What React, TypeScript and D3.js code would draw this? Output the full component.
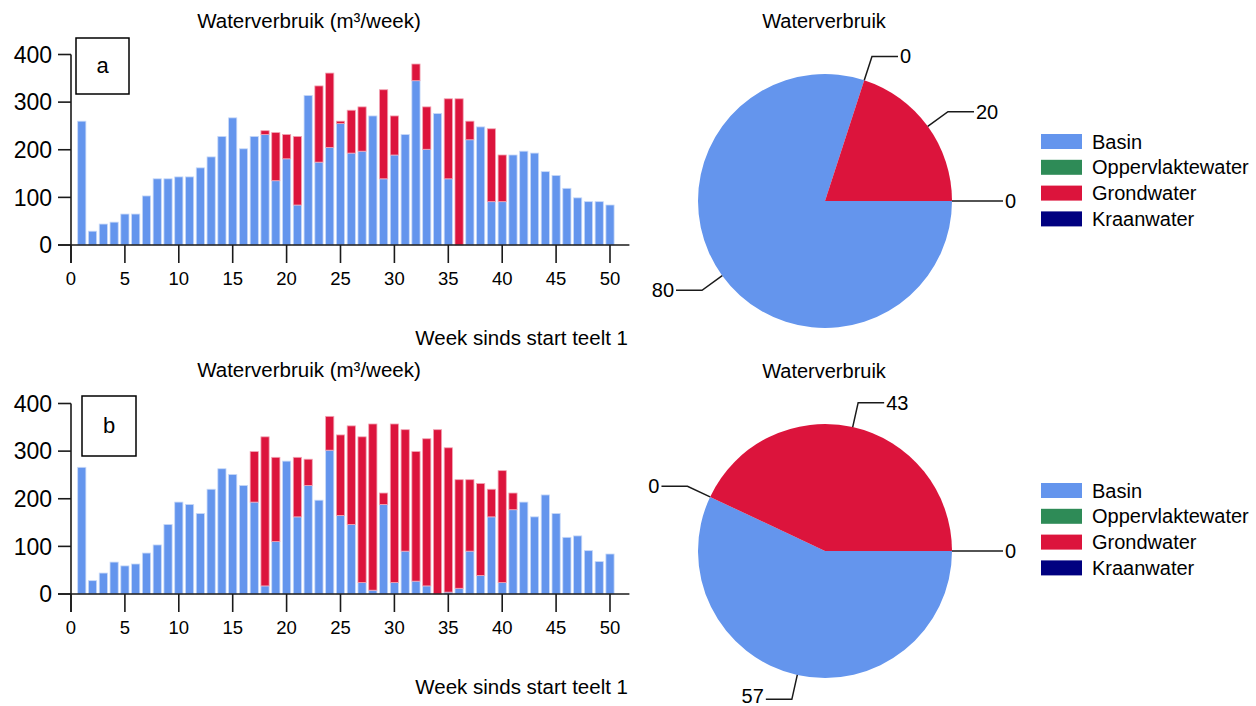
import React from "react";
import * as d3 from "d3";

// Weekly water use per source (m³/week), weeks since start of crop 1
const weeks = d3.range(1, 51);

const basinA = [
  260, 29, 44, 48, 65, 65, 103, 139, 139, 143,
  143, 162, 185, 228, 267, 202, 228, 232, 135, 181,
  84, 314, 174, 205, 255, 193, 197, 271, 139, 189,
  232, 345, 201, 276, 139, 0, 221, 248, 91, 91,
  189, 197, 193, 154, 146, 119, 99, 91, 91, 84,
];
const grondA = [
  0, 0, 0, 0, 0, 0, 0, 0, 0, 0,
  0, 0, 0, 0, 0, 0, 0, 8, 101, 51,
  144, 0, 160, 156, 5, 90, 93, 0, 187, 82,
  0, 35, 89, 0, 168, 307, 39, 0, 153, 98,
  0, 0, 0, 0, 0, 0, 0, 0, 0, 0,
];

const basinB = [
  266, 28, 44, 67, 59, 63, 86, 103, 146, 193,
  188, 169, 220, 263, 251, 228, 193, 17, 110, 279,
  162, 228, 197, 302, 165, 146, 24, 8, 188, 24,
  90, 27, 17, 0, 4, 12, 90, 39, 162, 24,
  177, 193, 162, 208, 169, 119, 122, 91, 68, 84,
];
const grondB = [
  0, 0, 0, 0, 0, 0, 0, 0, 0, 0,
  0, 0, 0, 0, 0, 0, 106, 313, 177, 0,
  125, 55, 0, 71, 169, 207, 306, 349, 24, 333,
  255, 272, 309, 345, 303, 228, 150, 193, 58, 235,
  35, 0, 0, 0, 0, 0, 0, 0, 0, 0,
];

// Share of total use per source (%)
const sources = ["Basin", "Oppervlaktewater", "Grondwater", "Kraanwater"];
const sourceColors = ["#6495ED", "#2E8B57", "#DC143C", "#000080"];
const pieA = [80, 0, 20, 0];
const pieB = [57, 0, 43, 0];

const yTicks = [0, 100, 200, 300, 400];
const xTicks = [0, 5, 10, 15, 20, 25, 30, 35, 40, 45, 50];

const FONT = "'Liberation Sans', Arial, sans-serif";
const INK = "#1a1a1a";

function BarPanel({ dy, basin, grond, letter, box }: any) {
  const x = d3.scaleLinear().domain([0, 51.8]).range([71, 71 + 51.8 * 10.78]);
  const y = d3.scaleLinear().domain([0, 400]).range([245 + dy, 54.5 + dy]);
  const bw = 8.2;
  const y0 = y(0);
  return (
    <g>
      <text x={309} y={28 + dy} fontSize={20.5} textAnchor="middle" fill="#000">
        Waterverbruik (m³/week)
      </text>
      {weeks.map((w, i) => {
        const b = basin[i];
        const g = grond[i];
        return (
          <g key={w}>
            {b > 0 && (
              <rect
                x={x(w) - bw / 2}
                y={y(b)}
                width={bw}
                height={y0 - y(b)}
                fill={sourceColors[0]}
                stroke="#c8d9f8"
                strokeWidth={0.8}
              />
            )}
            {g > 0 && (
              <rect
                x={x(w) - bw / 2}
                y={y(b + g)}
                width={bw}
                height={y(b) - y(b + g)}
                fill={sourceColors[2]}
                stroke="#f2a3b3"
                strokeWidth={0.8}
              />
            )}
          </g>
        );
      })}
      {/* y axis */}
      <line x1={71} x2={71} y1={y(400)} y2={y0 + 18} stroke={INK} strokeWidth={1.6} />
      {yTicks.map((t) => (
        <g key={t}>
          <line x1={58} x2={71} y1={y(t)} y2={y(t)} stroke={INK} strokeWidth={1.6} />
          <text x={52} y={y(t) + 8.3} fontSize={23} textAnchor="end" fill="#000">
            {t}
          </text>
        </g>
      ))}
      {/* x axis */}
      <line x1={58} x2={x(51.8)} y1={y0} y2={y0} stroke={INK} strokeWidth={1.6} />
      {xTicks.map((t) => (
        <g key={t}>
          <line x1={x(t)} x2={x(t)} y1={y0} y2={y0 + 18} stroke={INK} strokeWidth={1.6} />
          <text x={x(t)} y={y0 + 40} fontSize={18.5} textAnchor="middle" fill="#000">
            {t}
          </text>
        </g>
      ))}
      <text x={628} y={345 + dy} fontSize={20.5} textAnchor="end" fill="#000">
        Week sinds start teelt 1
      </text>
      {/* panel letter */}
      <rect
        x={box[0]}
        y={box[1] + dy}
        width={box[2]}
        height={box[3]}
        fill="#fff"
        stroke="#000"
        strokeWidth={1.5}
      />
      <text
        x={box[0] + box[2] / 2}
        y={box[1] + dy + box[3] / 2 + 7}
        fontSize={22}
        textAnchor="middle"
        fill="#000"
      >
        {letter}
      </text>
    </g>
  );
}

function PiePanel({ dy, values }: any) {
  const cx = 825;
  const cy = 201 + dy;
  const r = 127;
  const pie = d3
    .pie<number>()
    .sort(null)
    .value((d) => d)
    .startAngle(Math.PI / 2)
    .endAngle(Math.PI / 2 + 2 * Math.PI);
  const arcs = pie(values);
  const arc = d3.arc<any>().innerRadius(0).outerRadius(r);
  return (
    <g>
      <text x={824} y={28 + dy} fontSize={20} textAnchor="middle" fill="#000">
        Waterverbruik
      </text>
      <g transform={`translate(${cx},${cy})`}>
        {arcs.map((a, i) =>
          a.value > 0 ? <path key={i} d={arc(a) || ""} fill={sourceColors[i]} /> : null
        )}
      </g>
      {arcs.map((a, i) => {
        const m = (a.startAngle + a.endAngle) / 2;
        const sx = Math.sin(m);
        const sy = -Math.cos(m);
        const p0 = [cx + r * sx, cy + r * sy];
        const p1 = [cx + (r + 25) * sx, cy + (r + 25) * sy];
        const side = sx >= 0 ? 1 : -1;
        const p2 = [p1[0] + side * 26, p1[1]];
        // keep labels inside the drawing area
        const ty = Math.min(p2[1] + 7, 703);
        return (
          <g key={i}>
            <polyline
              points={`${p0[0]},${p0[1]} ${p1[0]},${p1[1]} ${p2[0]},${p2[1]}`}
              fill="none"
              stroke={INK}
              strokeWidth={1.5}
            />
            <text
              x={p2[0] + side * 2}
              y={ty}
              fontSize={20}
              textAnchor={side > 0 ? "start" : "end"}
              fill="#000"
            >
              {a.value}
            </text>
          </g>
        );
      })}
    </g>
  );
}

function Legend({ dy }: any) {
  return (
    <g>
      {sources.map((s, i) => (
        <g key={s} transform={`translate(1041,${134 + dy + i * 25.8})`}>
          <rect width={41} height={15} fill={sourceColors[i]} />
          <text x={51} y={14.5} fontSize={20} fill="#000">
            {s}
          </text>
        </g>
      ))}
    </g>
  );
}

export default function App() {
  return (
    <svg
      width={1256}
      height={706}
      style={{ position: "absolute", left: 0, top: 0, background: "#fff" }}
      fontFamily={FONT}
    >
      <rect width={1256} height={706} fill="#fff" />
      <BarPanel dy={0} basin={basinA} grond={grondA} letter="a" box={[76, 38, 53, 56]} />
      <PiePanel dy={0} values={pieA} />
      <Legend dy={0} />
      <BarPanel dy={349} basin={basinB} grond={grondB} letter="b" box={[82, 47, 54, 60]} />
      <PiePanel dy={350} values={pieB} />
      <Legend dy={349} />
    </svg>
  );
}
